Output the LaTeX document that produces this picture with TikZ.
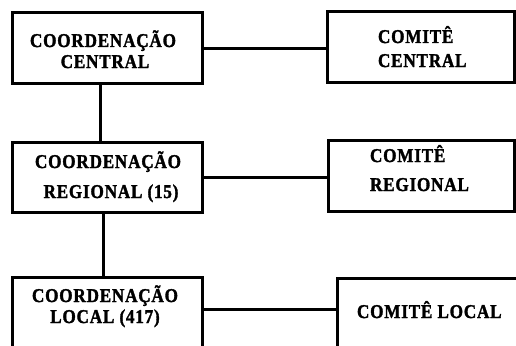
\documentclass[tikz,border=0pt]{standalone}
\usepackage{fontspec}
\setmainfont{Liberation Serif}
\newfontfamily\heavyfont[FakeStretch=0.88,FakeBold=1.6,LetterSpace=4]{Liberation Serif Bold}
\begin{document}
\begin{tikzpicture}[x=1pt,y=-1pt,
  box/.style={draw=black,line width=3pt,rectangle,inner sep=0pt,outer sep=0pt},
  conn/.style={draw=black,line width=3pt},
  lbl/.style={inner sep=0pt,outer sep=0pt,font=\heavyfont\fontsize{19.5}{23}\selectfont,text=black}]
\useasboundingbox (0,0) rectangle (516,345);
\clip (0,0) rectangle (516,345);
% boxes
\node[box,minimum width=190pt,minimum height=70pt] (c1) at (107,48) {};
\node[box,minimum width=187pt,minimum height=70pt] (k1) at (420.5,47) {};
\node[box,minimum width=190pt,minimum height=70pt] (c2) at (107,177) {};
\node[box,minimum width=186pt,minimum height=71pt] (k2) at (421,175.5) {};
\node[box,minimum width=190pt,minimum height=123pt] (c3) at (107,338.5) {};
\node[box,minimum width=223pt,minimum height=122pt] (k3) at (448.5,339) {};
% labels
\node[lbl,anchor=base] (t1a) at (103,47) {COORDENAÇÃO};
\node[lbl,anchor=base] (t1b) at (105,68) {CENTRAL};
\node[lbl,anchor=base west] (t2a) at (378,43) {COMITÊ};
\node[lbl,anchor=base west] (t2b) at (378,67) {CENTRAL};
\node[lbl,anchor=base] (t3a) at (108,168) {COORDENAÇÃO};
\node[lbl,anchor=base] (t3b) at (111,198) {REGIONAL (15)};
\node[lbl,anchor=base west] (t4a) at (370,162) {COMITÊ};
\node[lbl,anchor=base west] (t4b) at (370,191) {REGIONAL};
\node[lbl,anchor=base] (t5a) at (105,302) {COORDENAÇÃO};
\node[lbl,anchor=base] (t5b) at (105,323) {LOCAL (417)};
\node[lbl,anchor=base west] (t6) at (357,318) {COMITÊ LOCAL};
% helper coordinates
\coordinate (v1) at (100,0);
\coordinate (v2) at (103,0);
\coordinate (h1) at (0,49);
\coordinate (h2) at (0,177);
\coordinate (h3) at (0,309);
% connectors
\draw[conn] (c1.east |- h1) -- (k1.west |- h1);
\draw[conn] (c1.south -| v1) -- (c2.north -| v1);
\draw[conn] (c2.east |- h2) -- (k2.west |- h2);
\draw[conn] (c2.south -| v2) -- (c3.north -| v2);
\draw[conn] (c3.east |- h3) -- (k3.west |- h3);
\end{tikzpicture}
\end{document}
